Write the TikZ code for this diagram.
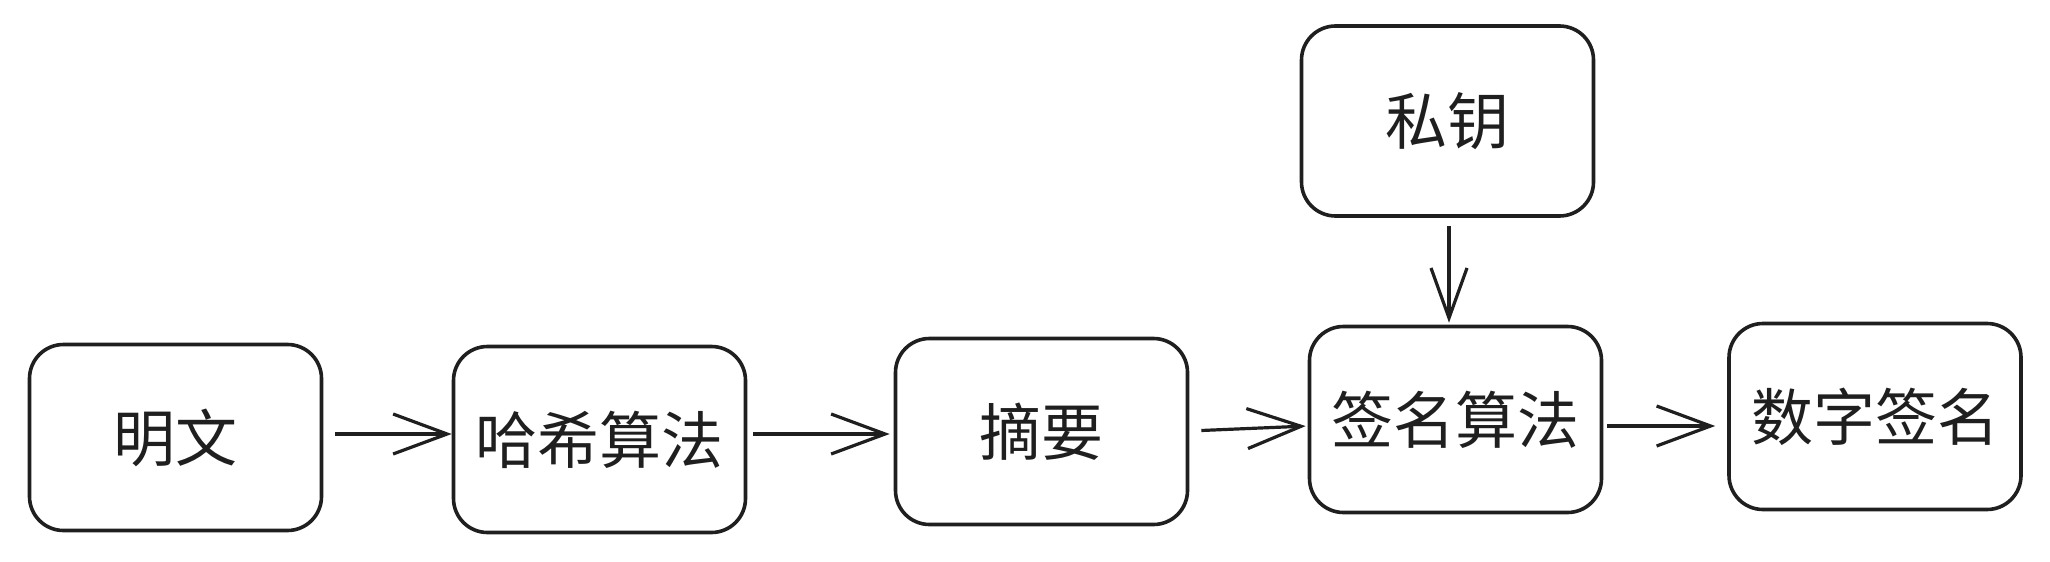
\documentclass[tikz,border=0pt]{standalone}
\usepackage{fontspec}
\newfontfamily\cjk{Noto Sans CJK SC}
\usetikzlibrary{arrows.meta}
\begin{document}
\begin{tikzpicture}[x=0.5pt,y=-0.5pt,
  box/.style={draw=black!88,line width=1.8pt,rounded corners=17pt,
    minimum width=146pt,minimum height=93pt,inner sep=0pt,
    font=\cjk\fontsize{31}{36}\selectfont,text=black!88},
  arr/.style={draw=black!88,line width=1.6pt,
    -{Straight Barb[length=27pt,width=20pt,line width=1.6pt]}},
  varr/.style={draw=black!88,line width=1.6pt,
    -{Straight Barb[length=25pt,width=18pt,line width=1.6pt]}}]
\useasboundingbox (0,0) rectangle (2050,562);
\node[box] (A) at (175.5,437.5) {明文};
\node[box] (B) at (599.5,439.5) {哈希算法};
\node[box] (C) at (1041.5,431.5) {摘要};
\node[box] (D) at (1455.5,419.5) {签名算法};
\node[box] (E) at (1875,416.5) {数字签名};
\node[box,minimum height=95pt] (K) at (1447.5,121) {私钥};
\coordinate (y1) at (0,434);
\coordinate (y2) at (0,431);
\coordinate (y3) at (0,426);
\coordinate (x1) at (1449,0);
\draw[arr,shorten <=6pt] (A.east |- y1) -- (B.west |- y1);
\draw[arr,shorten <=3pt,shorten >=2pt] (B.east |- y1) -- (C.west |- y1);
\draw[arr,shorten <=6pt,shorten >=1pt] (C.east |- y2) -- (D.west |- y3);
\draw[arr,shorten <=2pt,shorten >=6pt] (D.east |- y3) -- (E.west |- y3);
\draw[varr,shorten <=4pt,shorten >=1pt] (x1 |- K.south) -- (x1 |- D.north);
\end{tikzpicture}
\end{document}
